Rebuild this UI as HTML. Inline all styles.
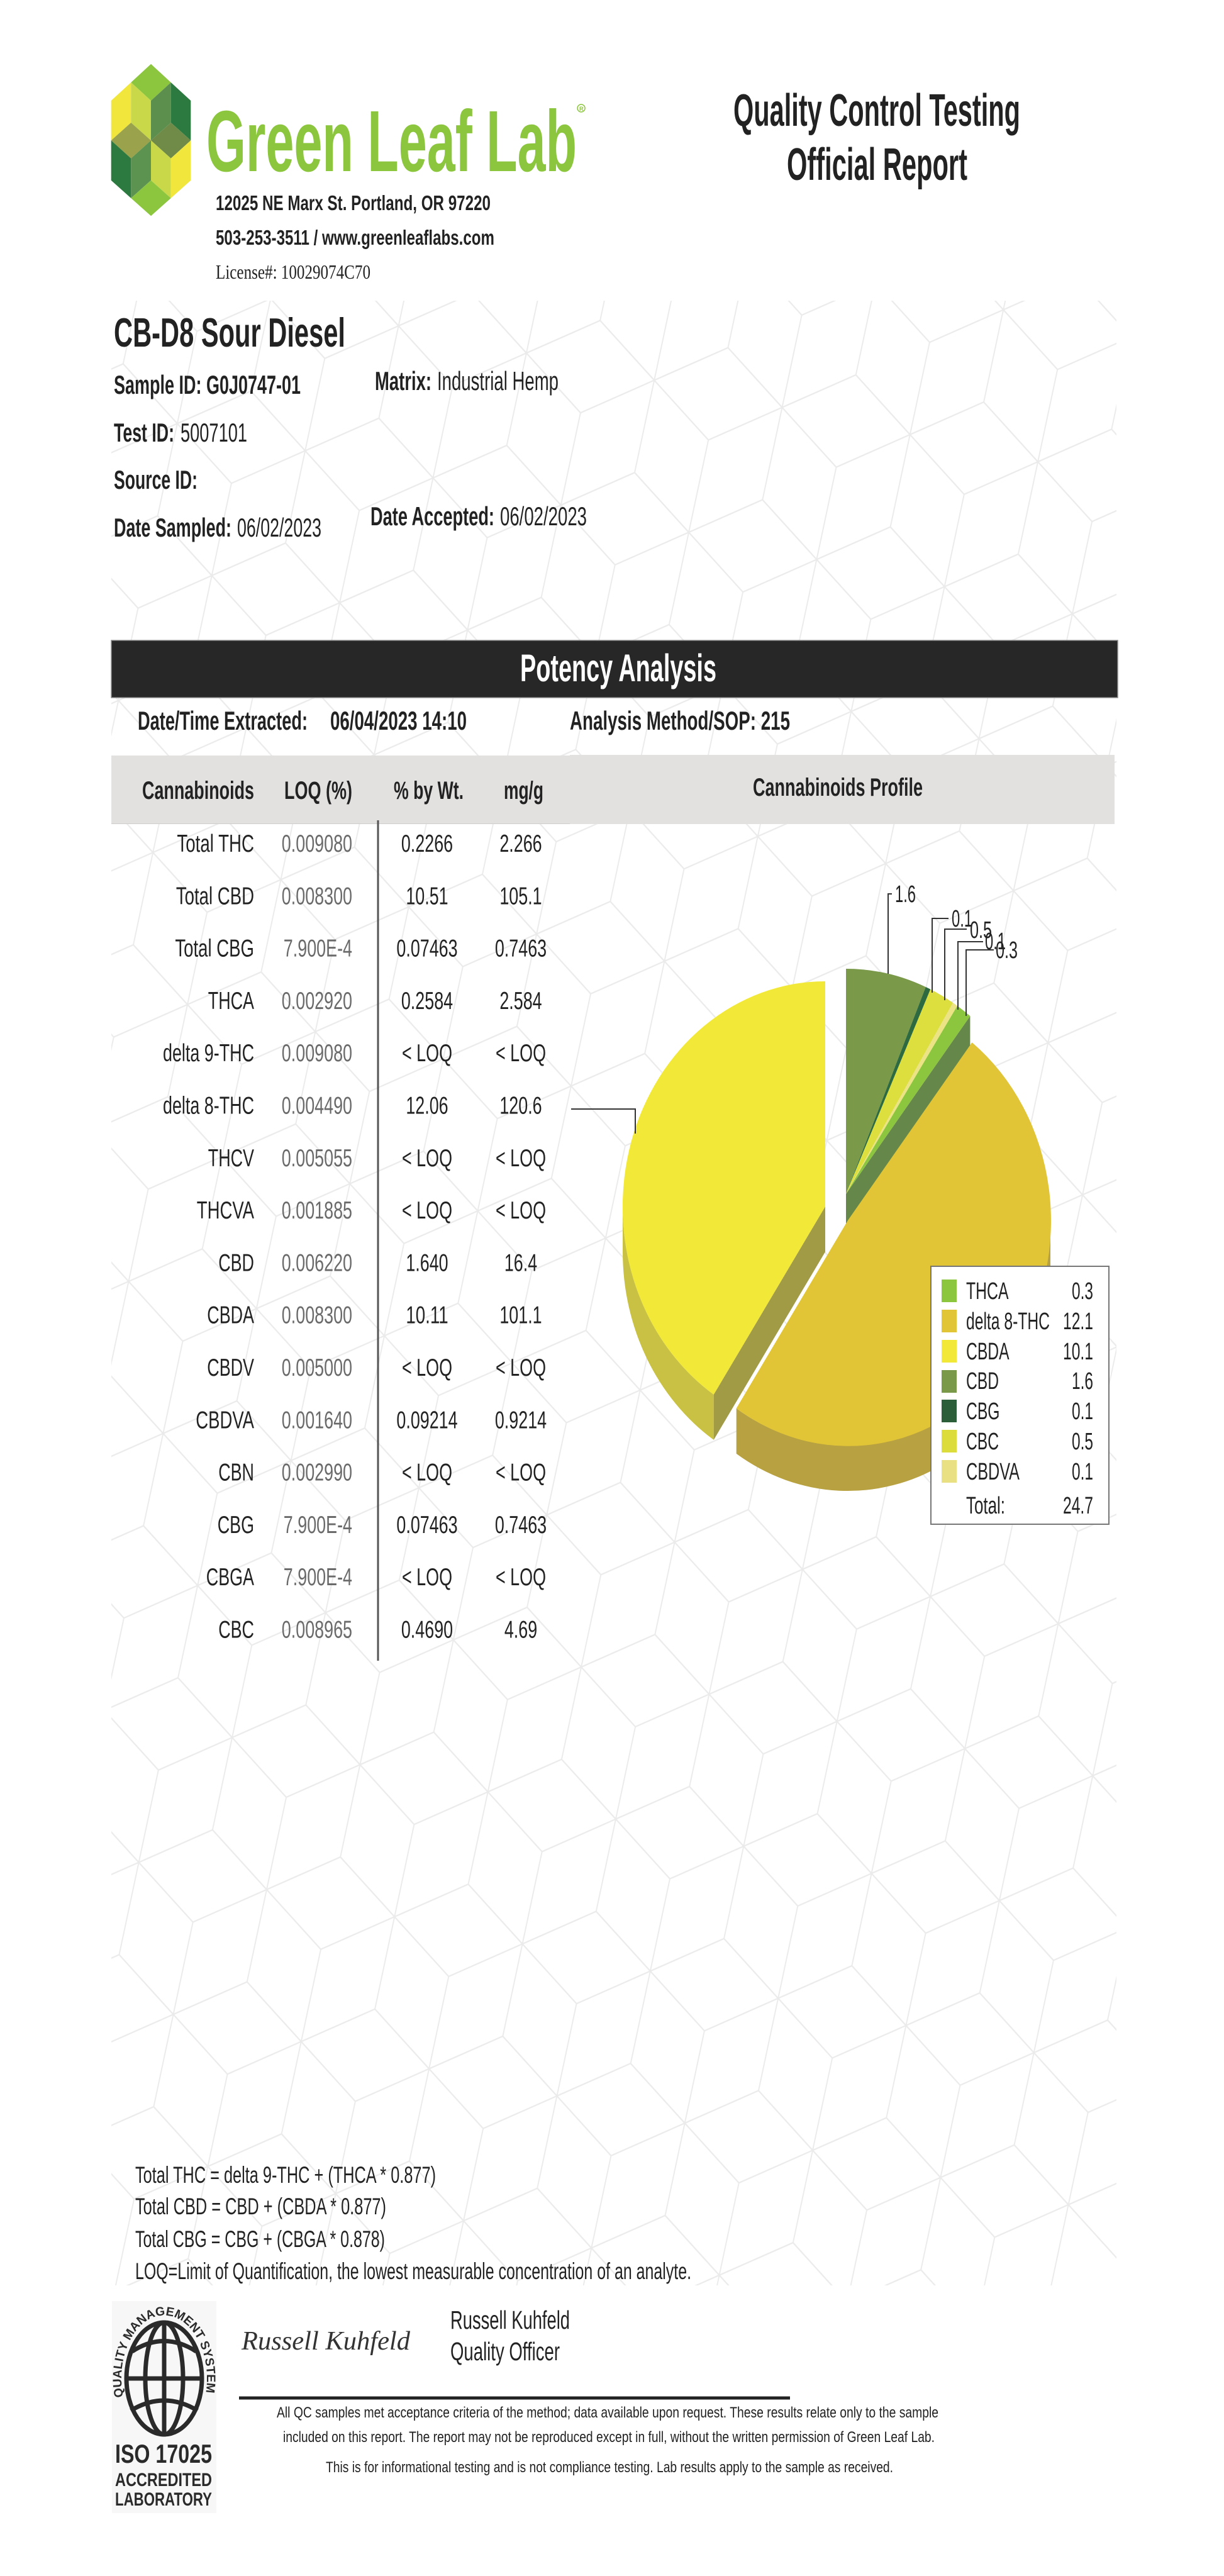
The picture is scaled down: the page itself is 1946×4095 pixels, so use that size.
<!DOCTYPE html>
<html>
<head>
<meta charset="utf-8">
<style>
  html,body{margin:0;padding:0;background:#fff;}
  svg{display:block;}
  text{font-family:"Liberation Sans", Arial, sans-serif;fill:#222;}
  .b{font-weight:bold;}
  .g{fill:#6a6a6a;}
</style>
</head>
<body>
<svg xmlns="http://www.w3.org/2000/svg" width="1946" height="4095" viewBox="0 0 1946 4095">
  <defs>
    <pattern id="cubes" patternUnits="userSpaceOnUse" width="173.2" height="300" patternTransform="rotate(12) scale(1.2,1.5)">
      <path fill="none" stroke="#ebebeb" stroke-width="1.6" d="M0,-100L86.6,-50L86.6,50L0,100L-86.6,50L-86.6,-50ZM0,0L0,100M0,0L-86.6,-50M0,0L86.6,-50
      M173.2,-100L259.8,-50L259.8,50L173.2,100L86.6,50L86.6,-50ZM173.2,0L173.2,100M173.2,0L86.6,-50M173.2,0L259.8,-50
      M86.6,50L173.2,100L173.2,200L86.6,250L0,200L0,100ZM86.6,150L86.6,250M86.6,150L0,100M86.6,150L173.2,100
      M0,200L86.6,250L86.6,350L0,400L-86.6,350L-86.6,250ZM0,300L0,400M0,300L-86.6,250M0,300L86.6,250
      M173.2,200L259.8,250L259.8,350L173.2,400L86.6,350L86.6,250ZM173.2,300L173.2,400M173.2,300L86.6,250M173.2,300L259.8,250
      M-86.6,50L0,100L0,200L-86.6,250L-173.2,200L-173.2,100ZM-86.6,150L-86.6,250M-86.6,150L-173.2,100M-86.6,150L0,100
      M259.8,50L346.4,100L346.4,200L259.8,250L173.2,200L173.2,100ZM259.8,150L259.8,250M259.8,150L173.2,100M259.8,150L346.4,100
      M86.6,-250L173.2,-200L173.2,-100L86.6,-50L0,-100L0,-200ZM86.6,-150L86.6,-50M86.6,-150L0,-200M86.6,-150L173.2,-200
      M86.6,350L173.2,400L173.2,500L86.6,550L0,500L0,400ZM86.6,450L86.6,550M86.6,450L0,400M86.6,450L173.2,400"/>
    </pattern>
    <path id="isoarc" d="M196,3810 A68 100 0 1 1 326,3810"/>
  </defs>

  <rect x="0" y="0" width="1946" height="4095" fill="#fff"/>
  <!-- background pattern -->
  <rect x="177" y="478" width="1598" height="3155" fill="url(#cubes)"/>

  <!-- ===== LOGO ===== -->
  <polygon points="240,101.7 271.7,131 240,160 208.3,131" fill="#8cc63f"/>
  <polygon points="176.7,160 208.3,131 208.3,195 176.7,223.3" fill="#f1e63b"/>
  <polygon points="208.3,131 240,160 240,223.3 208.3,195" fill="#c8d848"/>
  <polygon points="240,160 271.7,131 271.7,195 240,223.3" fill="#5c8f4e"/>
  <polygon points="271.7,131 303.3,160 303.3,223.3 271.7,195" fill="#2d7a40"/>
  <polygon points="176.7,223.3 208.3,195 240,223.3 208.3,251.7" fill="#9aa24c"/>
  <polygon points="240,223.3 271.7,195 303.3,223.3 271.7,251.7" fill="#6f8b47"/>
  <polygon points="176.7,223.3 208.3,251.7 208.3,315 176.7,286.7" fill="#2d7a40"/>
  <polygon points="208.3,251.7 240,223.3 240,286.7 208.3,315" fill="#5d9350"/>
  <polygon points="240,223.3 271.7,251.7 271.7,315 240,286.7" fill="#c8d848"/>
  <polygon points="271.7,251.7 303.3,223.3 303.3,286.7 271.7,315" fill="#f1e63b"/>
  <polygon points="208.3,315 240,286.7 271.7,315 240,343.3" fill="#8cc63f"/>

  <text class="b" x="328" y="272" font-size="138" textLength="589" lengthAdjust="spacingAndGlyphs" style="fill:#8cc63f">Green Leaf Lab</text>
  <circle cx="924" cy="172" r="6" fill="none" stroke="#8cc63f" stroke-width="1.5"/>
  <text class="b" x="921" y="176" font-size="9" style="fill:#8cc63f">R</text>

  <text class="b" x="343" y="334" font-size="33" textLength="437" lengthAdjust="spacingAndGlyphs">12025 NE Marx St. Portland, OR 97220</text>
  <text class="b" x="343" y="389" font-size="33" textLength="443" lengthAdjust="spacingAndGlyphs">503-253-3511 / www.greenleaflabs.com</text>
  <text x="343" y="443" font-size="32" textLength="246" lengthAdjust="spacingAndGlyphs" style="font-family:'Liberation Serif',serif;">License#: 10029074C70</text>

  <text class="b" x="1166" y="200" font-size="72" textLength="456" lengthAdjust="spacingAndGlyphs">Quality Control Testing</text>
  <text class="b" x="1251" y="286" font-size="72" textLength="287" lengthAdjust="spacingAndGlyphs">Official Report</text>

  <!-- ===== SAMPLE INFO ===== -->
  <text class="b" x="181" y="551" font-size="65" textLength="368" lengthAdjust="spacingAndGlyphs">CB-D8 Sour Diesel</text>
  <text class="b" x="181" y="626" font-size="42" textLength="297" lengthAdjust="spacingAndGlyphs">Sample ID: G0J0747-01</text>
  <text class="b" x="596" y="620" font-size="42" textLength="90" lengthAdjust="spacingAndGlyphs">Matrix:</text>
  <text x="695" y="620" font-size="42" textLength="193" lengthAdjust="spacingAndGlyphs">Industrial Hemp</text>
  <text class="b" x="181" y="702" font-size="42" textLength="96" lengthAdjust="spacingAndGlyphs">Test ID:</text>
  <text x="287" y="702" font-size="42" textLength="106" lengthAdjust="spacingAndGlyphs">5007101</text>
  <text class="b" x="181" y="777" font-size="42" textLength="133" lengthAdjust="spacingAndGlyphs">Source ID:</text>
  <text class="b" x="181" y="853" font-size="42" textLength="187" lengthAdjust="spacingAndGlyphs">Date Sampled:</text>
  <text x="377" y="853" font-size="42" textLength="134" lengthAdjust="spacingAndGlyphs">06/02/2023</text>
  <text class="b" x="589" y="835" font-size="42" textLength="197" lengthAdjust="spacingAndGlyphs">Date Accepted:</text>
  <text x="795" y="835" font-size="42" textLength="138" lengthAdjust="spacingAndGlyphs">06/02/2023</text>

  <!-- ===== POTENCY BAR ===== -->
  <rect x="177" y="1018" width="1600" height="91" fill="#272727" stroke="#8a8a8a" stroke-width="1.5"/>
  <text class="b" x="983" y="1083" font-size="61" text-anchor="middle" textLength="312" lengthAdjust="spacingAndGlyphs" style="fill:#fff">Potency Analysis</text>

  <text class="b" x="219" y="1160" font-size="42" textLength="270" lengthAdjust="spacingAndGlyphs">Date/Time Extracted:</text>
  <text class="b" x="525" y="1160" font-size="42" textLength="217" lengthAdjust="spacingAndGlyphs">06/04/2023  14:10</text>
  <text class="b" x="906" y="1160" font-size="42" textLength="350" lengthAdjust="spacingAndGlyphs">Analysis Method/SOP:  215</text>

  <!-- header row -->
  <rect x="177" y="1201" width="729" height="108" fill="#e3e0e0"/>
  <rect x="906" y="1200" width="866" height="110" fill="#e3e0e0"/>
  <line x1="177" y1="1309.5" x2="906" y2="1309.5" stroke="#d0cdcd" stroke-width="1"/>
  <text class="b" x="226" y="1270" font-size="40" textLength="178" lengthAdjust="spacingAndGlyphs">Cannabinoids</text>
  <text class="b" x="452" y="1270" font-size="40" textLength="108" lengthAdjust="spacingAndGlyphs">LOQ (%)</text>
  <text class="b" x="626" y="1270" font-size="40" textLength="111" lengthAdjust="spacingAndGlyphs">% by Wt.</text>
  <text class="b" x="801" y="1270" font-size="40" textLength="63" lengthAdjust="spacingAndGlyphs">mg/g</text>
  <text class="b" x="1197" y="1265" font-size="40" textLength="270" lengthAdjust="spacingAndGlyphs">Cannabinoids Profile</text>

  <line x1="601" y1="1304" x2="601" y2="2640" stroke="#555" stroke-width="3"/>

  <!-- ===== TABLE ROWS ===== -->
  <g font-size="39">
    <text x="404" y="1354" text-anchor="end" textLength="122.6" lengthAdjust="spacingAndGlyphs">Total THC</text>
    <text class="g" x="560" y="1354" text-anchor="end" textLength="112.2" lengthAdjust="spacingAndGlyphs">0.009080</text>
    <text x="679" y="1354" text-anchor="middle" textLength="82.3" lengthAdjust="spacingAndGlyphs">0.2266</text>
    <text x="828" y="1354" text-anchor="middle" textLength="67.3" lengthAdjust="spacingAndGlyphs">2.266</text>

    <text x="404" y="1437.3" text-anchor="end" textLength="124.1" lengthAdjust="spacingAndGlyphs">Total CBD</text>
    <text class="g" x="560" y="1437.3" text-anchor="end" textLength="112.2" lengthAdjust="spacingAndGlyphs">0.008300</text>
    <text x="679" y="1437.3" text-anchor="middle" textLength="67.3" lengthAdjust="spacingAndGlyphs">10.51</text>
    <text x="828" y="1437.3" text-anchor="middle" textLength="67.3" lengthAdjust="spacingAndGlyphs">105.1</text>

    <text x="404" y="1520.6" text-anchor="end" textLength="125.6" lengthAdjust="spacingAndGlyphs">Total CBG</text>
    <text class="g" x="560" y="1520.6" text-anchor="end" textLength="109.2" lengthAdjust="spacingAndGlyphs">7.900E-4</text>
    <text x="679" y="1520.6" text-anchor="middle" textLength="97.2" lengthAdjust="spacingAndGlyphs">0.07463</text>
    <text x="828" y="1520.6" text-anchor="middle" textLength="82.3" lengthAdjust="spacingAndGlyphs">0.7463</text>

    <text x="404" y="1603.9" text-anchor="end" textLength="73.2" lengthAdjust="spacingAndGlyphs">THCA</text>
    <text class="g" x="560" y="1603.9" text-anchor="end" textLength="112.2" lengthAdjust="spacingAndGlyphs">0.002920</text>
    <text x="679" y="1603.9" text-anchor="middle" textLength="82.3" lengthAdjust="spacingAndGlyphs">0.2584</text>
    <text x="828" y="1603.9" text-anchor="middle" textLength="67.3" lengthAdjust="spacingAndGlyphs">2.584</text>

    <text x="404" y="1687.2" text-anchor="end" textLength="145" lengthAdjust="spacingAndGlyphs">delta 9-THC</text>
    <text class="g" x="560" y="1687.2" text-anchor="end" textLength="112.2" lengthAdjust="spacingAndGlyphs">0.009080</text>
    <text x="679" y="1687.2" text-anchor="middle" textLength="80" lengthAdjust="spacingAndGlyphs">&lt; LOQ</text>
    <text x="828" y="1687.2" text-anchor="middle" textLength="80" lengthAdjust="spacingAndGlyphs">&lt; LOQ</text>

    <text x="404" y="1770.5" text-anchor="end" textLength="145" lengthAdjust="spacingAndGlyphs">delta 8-THC</text>
    <text class="g" x="560" y="1770.5" text-anchor="end" textLength="112.2" lengthAdjust="spacingAndGlyphs">0.004490</text>
    <text x="679" y="1770.5" text-anchor="middle" textLength="67.3" lengthAdjust="spacingAndGlyphs">12.06</text>
    <text x="828" y="1770.5" text-anchor="middle" textLength="67.3" lengthAdjust="spacingAndGlyphs">120.6</text>

    <text x="404" y="1853.8" text-anchor="end" textLength="73.2" lengthAdjust="spacingAndGlyphs">THCV</text>
    <text class="g" x="560" y="1853.8" text-anchor="end" textLength="112.2" lengthAdjust="spacingAndGlyphs">0.005055</text>
    <text x="679" y="1853.8" text-anchor="middle" textLength="80" lengthAdjust="spacingAndGlyphs">&lt; LOQ</text>
    <text x="828" y="1853.8" text-anchor="middle" textLength="80" lengthAdjust="spacingAndGlyphs">&lt; LOQ</text>

    <text x="404" y="1937.1" text-anchor="end" textLength="91.2" lengthAdjust="spacingAndGlyphs">THCVA</text>
    <text class="g" x="560" y="1937.1" text-anchor="end" textLength="112.2" lengthAdjust="spacingAndGlyphs">0.001885</text>
    <text x="679" y="1937.1" text-anchor="middle" textLength="80" lengthAdjust="spacingAndGlyphs">&lt; LOQ</text>
    <text x="828" y="1937.1" text-anchor="middle" textLength="80" lengthAdjust="spacingAndGlyphs">&lt; LOQ</text>

    <text x="404" y="2020.4" text-anchor="end" textLength="56.8" lengthAdjust="spacingAndGlyphs">CBD</text>
    <text class="g" x="560" y="2020.4" text-anchor="end" textLength="112.2" lengthAdjust="spacingAndGlyphs">0.006220</text>
    <text x="679" y="2020.4" text-anchor="middle" textLength="67.3" lengthAdjust="spacingAndGlyphs">1.640</text>
    <text x="828" y="2020.4" text-anchor="middle" textLength="52.3" lengthAdjust="spacingAndGlyphs">16.4</text>

    <text x="404" y="2103.7" text-anchor="end" textLength="74.7" lengthAdjust="spacingAndGlyphs">CBDA</text>
    <text class="g" x="560" y="2103.7" text-anchor="end" textLength="112.2" lengthAdjust="spacingAndGlyphs">0.008300</text>
    <text x="679" y="2103.7" text-anchor="middle" textLength="67.3" lengthAdjust="spacingAndGlyphs">10.11</text>
    <text x="828" y="2103.7" text-anchor="middle" textLength="67.3" lengthAdjust="spacingAndGlyphs">101.1</text>

    <text x="404" y="2187" text-anchor="end" textLength="74.7" lengthAdjust="spacingAndGlyphs">CBDV</text>
    <text class="g" x="560" y="2187" text-anchor="end" textLength="112.2" lengthAdjust="spacingAndGlyphs">0.005000</text>
    <text x="679" y="2187" text-anchor="middle" textLength="80" lengthAdjust="spacingAndGlyphs">&lt; LOQ</text>
    <text x="828" y="2187" text-anchor="middle" textLength="80" lengthAdjust="spacingAndGlyphs">&lt; LOQ</text>

    <text x="404" y="2270.3" text-anchor="end" textLength="92.7" lengthAdjust="spacingAndGlyphs">CBDVA</text>
    <text class="g" x="560" y="2270.3" text-anchor="end" textLength="112.2" lengthAdjust="spacingAndGlyphs">0.001640</text>
    <text x="679" y="2270.3" text-anchor="middle" textLength="97.2" lengthAdjust="spacingAndGlyphs">0.09214</text>
    <text x="828" y="2270.3" text-anchor="middle" textLength="82.3" lengthAdjust="spacingAndGlyphs">0.9214</text>

    <text x="404" y="2353.6" text-anchor="end" textLength="56.8" lengthAdjust="spacingAndGlyphs">CBN</text>
    <text class="g" x="560" y="2353.6" text-anchor="end" textLength="112.2" lengthAdjust="spacingAndGlyphs">0.002990</text>
    <text x="679" y="2353.6" text-anchor="middle" textLength="80" lengthAdjust="spacingAndGlyphs">&lt; LOQ</text>
    <text x="828" y="2353.6" text-anchor="middle" textLength="80" lengthAdjust="spacingAndGlyphs">&lt; LOQ</text>

    <text x="404" y="2436.9" text-anchor="end" textLength="58.3" lengthAdjust="spacingAndGlyphs">CBG</text>
    <text class="g" x="560" y="2436.9" text-anchor="end" textLength="109.2" lengthAdjust="spacingAndGlyphs">7.900E-4</text>
    <text x="679" y="2436.9" text-anchor="middle" textLength="97.2" lengthAdjust="spacingAndGlyphs">0.07463</text>
    <text x="828" y="2436.9" text-anchor="middle" textLength="82.3" lengthAdjust="spacingAndGlyphs">0.7463</text>

    <text x="404" y="2520.2" text-anchor="end" textLength="76.2" lengthAdjust="spacingAndGlyphs">CBGA</text>
    <text class="g" x="560" y="2520.2" text-anchor="end" textLength="109.2" lengthAdjust="spacingAndGlyphs">7.900E-4</text>
    <text x="679" y="2520.2" text-anchor="middle" textLength="80" lengthAdjust="spacingAndGlyphs">&lt; LOQ</text>
    <text x="828" y="2520.2" text-anchor="middle" textLength="80" lengthAdjust="spacingAndGlyphs">&lt; LOQ</text>

    <text x="404" y="2603.5" text-anchor="end" textLength="56.8" lengthAdjust="spacingAndGlyphs">CBC</text>
    <text class="g" x="560" y="2603.5" text-anchor="end" textLength="112.2" lengthAdjust="spacingAndGlyphs">0.008965</text>
    <text x="679" y="2603.5" text-anchor="middle" textLength="82.3" lengthAdjust="spacingAndGlyphs">0.4690</text>
    <text x="828" y="2603.5" text-anchor="middle" textLength="52.3" lengthAdjust="spacingAndGlyphs">4.69</text>
  </g>

  <!-- ===== PIE CHART ===== -->
  <!-- CBDA side -->
  <path d="M1134.7,2216.9 A322 358 0 0 1 990,1918 L990,1990 A322 358 0 0 0 1134.7,2288.9 Z" fill="#c9c143"/>
  <!-- CBDA radial wall -->
  <polygon points="1312,1918 1134.7,2216.9 1134.7,2288.9 1312,1990" fill="#a29b46"/>
  <!-- THCA wall -->
  <polygon points="1345,1898 1542.4,1615.1 1542.4,1687.1 1345,1970" fill="#65884a"/>
  <!-- d8 side -->
  <path d="M1670,1940 A322 358 0 0 1 1170.7,2238.9 L1170.7,2310.9 A322 358 0 0 0 1670,2012 Z" fill="#b7a140"/>
  <!-- small slices tops -->
  <path d="M1345,1898 L1345,1540 A322 358 0 0 1 1471.8,1569 Z" fill="#7a9a4a"/>
  <path d="M1345,1898 L1471.8,1569 A322 358 0 0 1 1479.3,1572.6 Z" fill="#2e6a40"/>
  <path d="M1345,1898 L1479.3,1572.6 A322 358 0 0 1 1515.1,1594.1 Z" fill="#dcdf3e"/>
  <path d="M1345,1898 L1515.1,1594.1 A322 358 0 0 1 1522,1599 Z" fill="#ebe384"/>
  <path d="M1345,1898 L1522,1599 A322 358 0 0 1 1542.4,1615.1 Z" fill="#8cc63f"/>
  <!-- d8 top -->
  <path d="M1348,1940 L1545.4,1657.1 A322 358 0 0 1 1170.7,2238.9 Z" fill="#e1c536"/>
  <!-- CBDA top -->
  <path d="M1312,1918 L1134.7,2216.9 A322 358 0 0 1 1312,1560 Z" fill="#f1e838"/>

  <!-- leaders -->
  <g fill="none" stroke="#333" stroke-width="2">
    <polyline points="1418,1421 1412,1421 1412,1548"/>
    <polyline points="1508,1460 1482,1460 1482,1578"/>
    <polyline points="1537,1477 1502,1477 1502,1590"/>
    <polyline points="1563,1497 1523,1497 1523,1605"/>
    <polyline points="1580,1510 1536,1510 1536,1615"/>
    <polyline points="908,1763 1010,1763 1010,1802"/>
  </g>
  <g font-size="38">
    <text x="1423" y="1434" textLength="33" lengthAdjust="spacingAndGlyphs">1.6</text>
    <text x="1513" y="1473" textLength="33" lengthAdjust="spacingAndGlyphs">0.1</text>
    <text x="1542" y="1491" textLength="35" lengthAdjust="spacingAndGlyphs">0.5</text>
    <text x="1566" y="1509" textLength="33" lengthAdjust="spacingAndGlyphs">0.1</text>
    <text x="1583" y="1523" textLength="35" lengthAdjust="spacingAndGlyphs">0.3</text>
  </g>

  <!-- legend -->
  <rect x="1480" y="2013" width="283" height="410" fill="#fff" stroke="#777" stroke-width="2"/>
  <rect x="1497" y="2034" width="24" height="36" fill="#8cc63f"/>
  <rect x="1497" y="2082" width="24" height="36" fill="#e1c536"/>
  <rect x="1497" y="2130" width="24" height="36" fill="#f1e838"/>
  <rect x="1497" y="2178" width="24" height="36" fill="#7a9a4a"/>
  <rect x="1497" y="2225" width="24" height="36" fill="#2c5e3a"/>
  <rect x="1497" y="2273" width="24" height="36" fill="#dcdd3c"/>
  <rect x="1497" y="2321" width="24" height="36" fill="#e8e082"/>
  <g font-size="38">
    <text x="1536" y="2065" textLength="67.5" lengthAdjust="spacingAndGlyphs">THCA</text>
    <text x="1536" y="2113" textLength="133" lengthAdjust="spacingAndGlyphs">delta 8-THC</text>
    <text x="1536" y="2161" textLength="68.6" lengthAdjust="spacingAndGlyphs">CBDA</text>
    <text x="1536" y="2208" textLength="52" lengthAdjust="spacingAndGlyphs">CBD</text>
    <text x="1536" y="2256" textLength="53.5" lengthAdjust="spacingAndGlyphs">CBG</text>
    <text x="1536" y="2304" textLength="52" lengthAdjust="spacingAndGlyphs">CBC</text>
    <text x="1536" y="2352" textLength="85" lengthAdjust="spacingAndGlyphs">CBDVA</text>
    <text x="1536" y="2406" textLength="62" lengthAdjust="spacingAndGlyphs">Total:</text>
    <text x="1738" y="2065" text-anchor="end" textLength="34" lengthAdjust="spacingAndGlyphs">0.3</text>
    <text x="1738" y="2113" text-anchor="end" textLength="48" lengthAdjust="spacingAndGlyphs">12.1</text>
    <text x="1738" y="2161" text-anchor="end" textLength="48" lengthAdjust="spacingAndGlyphs">10.1</text>
    <text x="1738" y="2208" text-anchor="end" textLength="34" lengthAdjust="spacingAndGlyphs">1.6</text>
    <text x="1738" y="2256" text-anchor="end" textLength="34" lengthAdjust="spacingAndGlyphs">0.1</text>
    <text x="1738" y="2304" text-anchor="end" textLength="34" lengthAdjust="spacingAndGlyphs">0.5</text>
    <text x="1738" y="2352" text-anchor="end" textLength="34" lengthAdjust="spacingAndGlyphs">0.1</text>
    <text x="1738" y="2406" text-anchor="end" textLength="48" lengthAdjust="spacingAndGlyphs">24.7</text>
  </g>

  <!-- ===== FORMULAS ===== -->
  <g font-size="37">
    <text x="215" y="3470" textLength="478" lengthAdjust="spacingAndGlyphs">Total THC =  delta 9-THC + (THCA * 0.877)</text>
    <text x="215" y="3520" textLength="399" lengthAdjust="spacingAndGlyphs">Total CBD =  CBD + (CBDA * 0.877)</text>
    <text x="215" y="3572" textLength="397" lengthAdjust="spacingAndGlyphs">Total CBG = CBG + (CBGA * 0.878)</text>
    <text x="215" y="3623" textLength="884" lengthAdjust="spacingAndGlyphs">LOQ=Limit of Quantification, the lowest measurable concentration of an analyte.</text>
  </g>

  <!-- ===== FOOTER ===== -->
  <rect x="178" y="3658" width="166" height="337" fill="#f7f7f7"/>
  <g fill="none" stroke="#2a2a2a" stroke-width="7">
    <ellipse cx="261" cy="3781" rx="60" ry="89"/>
    <ellipse cx="261" cy="3781" rx="30" ry="89"/>
    <line x1="261" y1="3692" x2="261" y2="3870"/>
    <line x1="201" y1="3781" x2="321" y2="3781"/>
    <path d="M210,3738 Q261,3705 312,3738"/>
    <path d="M208,3832 Q261,3800 314,3832"/>
  </g>
  <text class="b" font-size="19.5" style="fill:#2a2a2a"><textPath href="#isoarc" startOffset="0">QUALITY MANAGEMENT SYSTEM</textPath></text>
  <text class="b" x="183" y="3915" font-size="42" textLength="154" lengthAdjust="spacingAndGlyphs" style="fill:#2a2a2a">ISO 17025</text>
  <text class="b" x="183" y="3952" font-size="30" textLength="154" lengthAdjust="spacingAndGlyphs" style="fill:#2a2a2a">ACCREDITED</text>
  <text class="b" x="183" y="3983" font-size="30" textLength="154" lengthAdjust="spacingAndGlyphs" style="fill:#2a2a2a">LABORATORY</text>

  <text x="384" y="3735" font-size="42" textLength="268" lengthAdjust="spacingAndGlyphs" style="font-family:'Liberation Serif',serif;font-style:italic;fill:#333">Russell Kuhfeld</text>

  <text x="716" y="3702" font-size="41" textLength="190" lengthAdjust="spacingAndGlyphs">Russell Kuhfeld</text>
  <text x="716" y="3752" font-size="41" textLength="174" lengthAdjust="spacingAndGlyphs">Quality Officer</text>

  <line x1="380" y1="3812" x2="1256" y2="3812" stroke="#222" stroke-width="5"/>

  <g font-size="24">
    <text x="966" y="3843" text-anchor="middle" textLength="1052" lengthAdjust="spacingAndGlyphs">All QC samples met acceptance criteria of the method; data available upon request. These results relate only to the sample</text>
    <text x="968" y="3882" text-anchor="middle" textLength="1036" lengthAdjust="spacingAndGlyphs">included on this report. The report may not be reproduced except in full, without the written permission of Green Leaf Lab.</text>
    <text x="969" y="3930" text-anchor="middle" textLength="902" lengthAdjust="spacingAndGlyphs">This is for informational testing and is not compliance testing. Lab results apply to the sample as received.</text>
  </g>
</svg>
</body>
</html>
